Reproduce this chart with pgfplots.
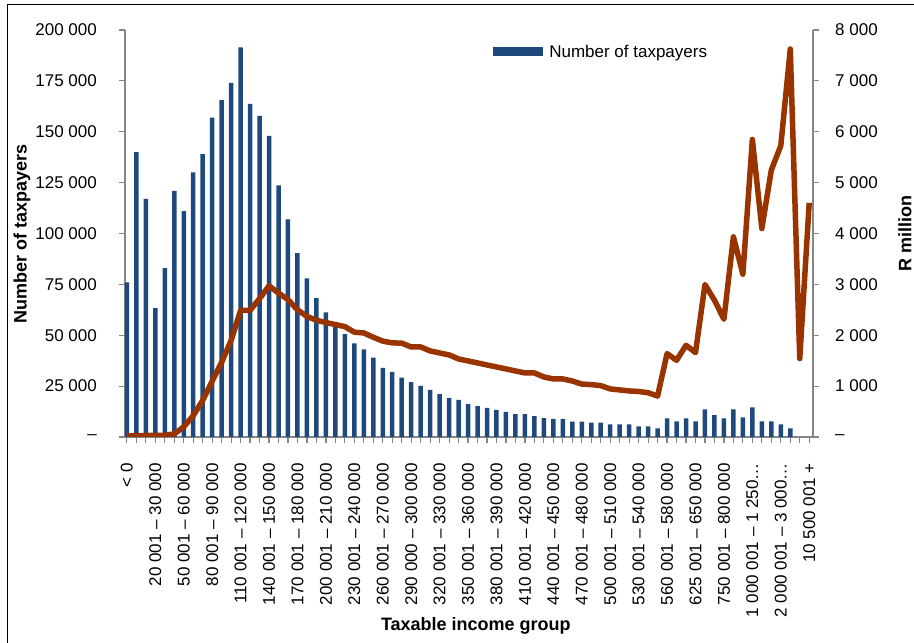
\documentclass[border=0pt]{standalone}
\usepackage{pgfplots}
\pgfplotsset{compat=1.18}
\usepackage{fontspec}
\setmainfont{Liberation Sans}
\definecolor{barblue}{HTML}{1F497D}
\definecolor{linered}{HTML}{993300}
\definecolor{axgray}{HTML}{868686}
\pgfplotstableread{
i n
0 76000
1 140000
2 117000
3 63300
4 83000
5 121000
6 111000
7 130000
8 139000
9 157000
10 165500
11 174000
12 191500
13 163700
14 157800
15 148000
16 123700
17 107000
18 90300
19 78000
20 68200
21 61300
22 54500
23 50500
24 46000
25 43000
26 39000
27 34000
28 32000
29 29200
30 27000
31 25100
32 23100
33 21100
34 19200
35 18200
36 16200
37 15200
38 14300
39 13300
40 12300
41 11300
42 11300
43 10300
44 9300
45 8850
46 8850
47 7500
48 7500
49 7100
50 7100
51 6200
52 6200
53 6200
54 5200
55 5200
56 4300
57 9200
58 7700
59 9200
60 7700
61 13600
62 10700
63 9200
64 13600
65 9700
66 14600
67 7700
68 7700
69 6200
70 4300
}\taxpayers
\pgfplotstableread{
i r
0 20
1 25
2 30
3 30
4 35
5 60
6 200
7 420
8 720
9 1100
10 1470
11 1900
12 2490
13 2490
14 2720
15 2970
16 2830
17 2700
18 2500
19 2370
20 2295
21 2250
22 2210
23 2170
24 2060
25 2045
26 1960
27 1885
28 1850
29 1845
30 1770
31 1770
32 1692
33 1652
34 1613
35 1534
36 1495
37 1456
38 1416
39 1377
40 1338
41 1298
42 1259
43 1259
44 1180
45 1141
46 1141
47 1100
48 1040
49 1030
50 1010
51 945
52 925
53 905
54 895
55 870
56 805
57 1639
58 1508
59 1803
60 1659
61 2997
62 2688
63 2315
64 3934
65 3200
66 5849
67 4098
68 5246
69 5724
70 7626
71 1541
72 4603
}\rmillion
\begin{document}
\begin{tikzpicture}
\useasboundingbox (-125bp,-206bp) rectangle (789bp,437bp);
\pgfplotsset{
  common/.style={
    at={(0,0)}, anchor=south west, scale only axis, width=688bp, height=407bp,
    xmin=-0.2, xmax=72.4,
    tick align=outside, major tick length=6bp, minor tick length=6bp,
    every tick/.style={axgray, line width=1.2bp},
    axis line style={axgray, line width=1.5bp},
    tick label style={font=\fontsize{17bp}{20bp}\selectfont, inner sep=0pt},
    label style={font=\bfseries\fontsize{18bp}{21bp}\selectfont},
    scaled y ticks=false,
    clip=true,
  }
}
\begin{axis}[common,
  axis y line*=left, axis x line*=bottom,
  ymin=0, ymax=200000,
  ytick={0,25000,50000,75000,100000,125000,150000,175000,200000},
  yticklabels={–,25 000,50 000,75 000,100 000,125 000,150 000,175 000,200 000},
  yticklabel style={anchor=east, xshift=-22bp},
  xtick={0,3,...,72}, minor x tick num=2,
  xticklabels={< 0,20 001 – 30 000,50 001 – 60 000,80 001 – 90 000,110 001 – 120 000,140 001 – 150 000,170 001 – 180 000,200 001 – 210 000,230 001 – 240 000,260 001 – 270 000,290 000 – 300 000,320 001 – 330 000,350 001 – 360 000,380 001 – 390 000,410 001 – 420 000,440 001 – 450 000,470 001 – 480 000,500 001 – 510 000,530 001 – 540 000,560 001 – 580 000,625 001 – 650 000,750 001 – 800 000,1 000 001 – 1 250…,2 000 001 – 3 000…,10 500 001 +},
  xticklabel style={rotate=90, anchor=east, xshift=-20bp},
  xlabel={Taxable income group},
  xlabel style={at={(axis description cs:0.510,-0.4644)}, anchor=center},
  ylabel={Number of taxpayers},
  ylabel style={at={(axis description cs:-0.1497,0.5)}, anchor=center},
  legend style={at={(axis description cs:0.535,0.946)}, anchor=west, draw=none, fill=none, inner sep=0pt,
    font=\fontsize{17bp}{20bp}\selectfont},
  legend image code/.code={\fill[barblue] (0bp,-4.5bp) rectangle (50bp,4.5bp);},
]
\addplot[ybar, bar width=4.5bp, fill=barblue, draw=none] table[x=i, y=n] {\taxpayers};
\addlegendentry{\hspace{4bp}Number of taxpayers}
\end{axis}
\begin{axis}[common,
  axis y line*=right, axis x line=none,
  ymin=0, ymax=8000,
  ytick={0,1000,2000,3000,4000,5000,6000,7000,8000},
  yticklabels={–,1 000,2 000,3 000,4 000,5 000,6 000,7 000,8 000},
  yticklabel style={anchor=west, xshift=16bp},
  ylabel={R million},
  ylabel style={at={(axis description cs:1.1337,0.5)}, anchor=center, rotate=0},
]
\addplot[linered, line width=5.5bp, line join=round, no markers] table[x=i, y=r] {\rmillion};
\end{axis}
\draw[black, line width=1bp] (-117bp,-206bp) -- (-117bp,432bp) -- (789bp,432bp);
\end{tikzpicture}
\end{document}
